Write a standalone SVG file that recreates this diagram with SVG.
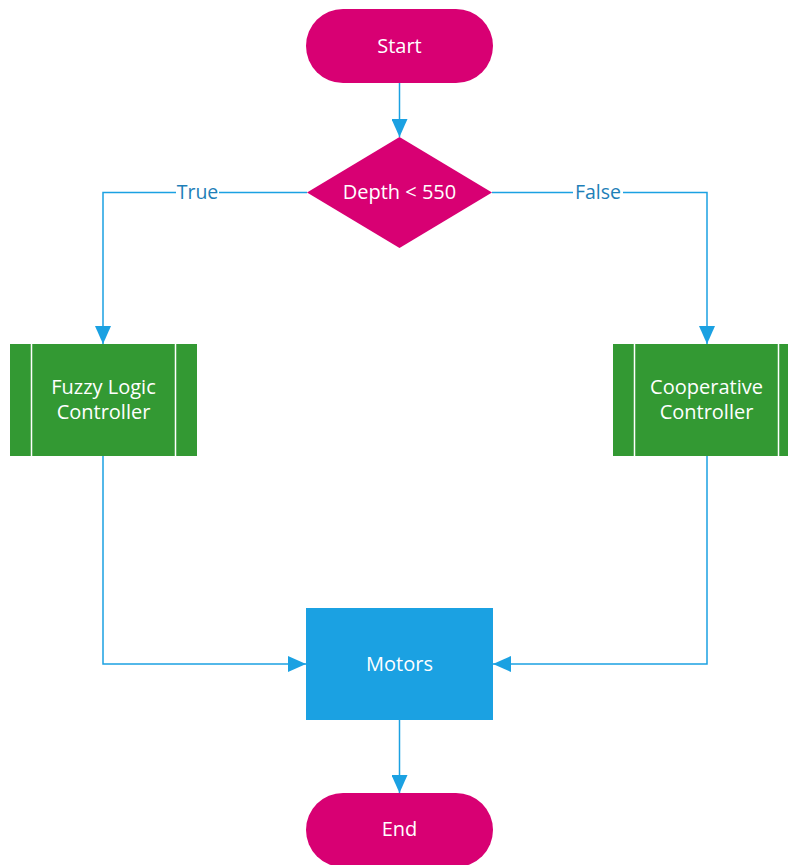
<svg xmlns="http://www.w3.org/2000/svg" width="788" height="865" viewBox="0 0 788 865">
  <style>
    .conn { fill: none; stroke: #1BA1E2; stroke-width: 1.5; }
    .label { font-family: "Open Sans", "Noto Sans", sans-serif; font-size: 20px; fill: #ffffff; text-anchor: middle; dominant-baseline: central; }
    .edge-label { font-family: "Open Sans", "Noto Sans", sans-serif; font-size: 19.5px; fill: #1E7FB8; text-anchor: middle; dominant-baseline: central; }
    .term { fill: #D80073; }
    .proc { fill: #339933; }
    .band { stroke: #ffffff; stroke-width: 1.5; }
  </style>
  <defs>
    <marker id="arrow" viewBox="0 0 18 16" refX="18" refY="8" markerWidth="18" markerHeight="16" markerUnits="userSpaceOnUse" orient="auto">
      <path d="M0,0 L18,8 L0,16 Z" fill="#1BA1E2"/>
    </marker>
  </defs>
  <rect width="788" height="865" fill="#ffffff"/>

  <g id="connectors">
    <path class="conn" d="M399.5,83 L399.5,137" marker-end="url(#arrow)"/>
    <path class="conn" d="M307,192.5 L103,192.5 L103,344" marker-end="url(#arrow)"/>
    <path class="conn" d="M492,192.5 L707,192.5 L707,344" marker-end="url(#arrow)"/>
    <path class="conn" d="M103,456 L103,664 L306,664" marker-end="url(#arrow)"/>
    <path class="conn" d="M707,456 L707,664 L493,664" marker-end="url(#arrow)"/>
    <path class="conn" d="M399.5,720 L399.5,793" marker-end="url(#arrow)"/>
    <rect x="176" y="181" width="43" height="23" fill="#ffffff"/>
    <text class="edge-label" x="197.5" y="191">True</text>
    <rect x="573" y="181" width="50" height="23" fill="#ffffff"/>
    <text class="edge-label" x="598" y="191">False</text>
  </g>

  <g id="start">
    <rect class="term" x="306" y="9" width="187" height="74" rx="37" ry="37"/>
    <text class="label" x="399.5" y="45.5">Start</text>
  </g>

  <g id="decision">
    <polygon class="term" points="399.5,137 492,192.5 399.5,248 307,192.5"/>
    <text class="label" x="399.5" y="191.5">Depth &lt; 550</text>
  </g>

  <g id="fuzzy">
    <rect class="proc" x="10" y="344" width="187" height="112"/>
    <line class="band" x1="31.5" y1="344" x2="31.5" y2="456"/>
    <line class="band" x1="175.5" y1="344" x2="175.5" y2="456"/>
    <text class="label" x="103.5" y="386.5">Fuzzy Logic</text>
    <text class="label" x="103.5" y="411.5">Controller</text>
  </g>

  <g id="cooperative">
    <rect class="proc" x="613" y="344" width="187" height="112"/>
    <line class="band" x1="634.5" y1="344" x2="634.5" y2="456"/>
    <line class="band" x1="778.5" y1="344" x2="778.5" y2="456"/>
    <text class="label" x="706.5" y="386.5">Cooperative</text>
    <text class="label" x="706.5" y="411.5">Controller</text>
  </g>

  <g id="motors">
    <rect x="306" y="608" width="187" height="112" fill="#1BA1E2"/>
    <text class="label" x="399.5" y="663.5">Motors</text>
  </g>

  <g id="end">
    <rect class="term" x="306" y="793" width="187" height="74" rx="37" ry="37"/>
    <text class="label" x="399.5" y="828.5">End</text>
  </g>
</svg>
